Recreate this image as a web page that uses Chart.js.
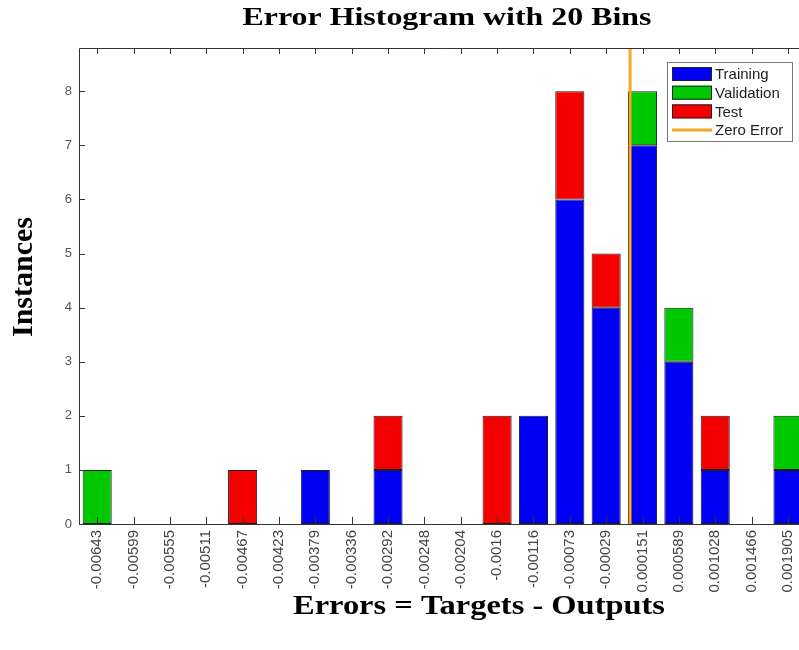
<!DOCTYPE html>
<html><head><meta charset="utf-8">
<script src="https://cdn.jsdelivr.net/npm/chart.js@4.4.1/dist/chart.umd.min.js"></script>
<style>
html,body{margin:0;padding:0;background:#fff;overflow:hidden;width:799px;height:650px}
#wrap{position:relative;width:812px;height:650px}
</style></head>
<body><div id="wrap"><canvas id="c" width="812" height="650"></canvas></div>
<script>
// ---- data ----
const binLabels = ['-0.00643','-0.00599','-0.00555','-0.00511','-0.00467','-0.00423','-0.00379','-0.00336','-0.00292','-0.00248','-0.00204','-0.0016','-0.00116','-0.00073','-0.00029','0.000151','0.000589','0.001028','0.001466','0.001905'];
const training   = [0,0,0,0,0,0,1,0,1,0,0,0,2,6,4,7,3,1,0,1];
const validation = [1,0,0,0,0,0,0,0,0,0,0,0,0,0,0,1,1,0,0,1];
const test       = [0,0,0,0,1,0,0,0,1,0,0,2,0,2,1,0,0,1,0,0];
const zeroError  = 0;
const yMax = 8.8;
const chartTitle = 'Error Histogram with 20 Bins';
const xTitle = 'Errors = Targets - Outputs';
const yTitle = 'Instances';
const legendLabels = ['Training','Validation','Test','Zero Error'];

// ---- styles ----
const C_TRAIN = '#0000f5', C_VAL = '#00c800', C_TEST = '#f50000', C_ZERO = '#f5a623';

const first = Number(binLabels[0]), last = Number(binLabels[binLabels.length-1]);
const bw = (last - first) / (binLabels.length - 1);
const nz = a => a.map(v => v === 0 ? null : v);

function barDs(label, data, color){
  return {type:'bar', label, data:nz(data), backgroundColor:color, borderColor:'#1a1a1a',
    borderWidth:1, borderSkipped:false, barPercentage:0.8, categoryPercentage:1, grouped:false,
    xAxisID:'x', yAxisID:'y'};
}

const framePlugin = {
  id:'frame',
  afterDraw(chart){
    const ctx = chart.ctx, a = chart.chartArea, xs = chart.scales.x, ys = chart.scales.y;
    ctx.save();
    ctx.strokeStyle = '#333'; ctx.lineWidth = 1;
    ctx.beginPath();
    ctx.moveTo(a.left+0.5, a.bottom+0.5); ctx.lineTo(a.left+0.5, a.top+0.5); ctx.lineTo(a.right, a.top+0.5);
    ctx.moveTo(a.left, a.bottom+0.5); ctx.lineTo(a.right, a.bottom+0.5);
    ctx.stroke();
    ctx.beginPath();
    ys.ticks.forEach(t => { const y = Math.round(ys.getPixelForValue(t.value))+0.5; ctx.moveTo(a.left, y); ctx.lineTo(a.left+6, y); });
    binLabels.forEach((l,i) => { const x = Math.round(xs.getPixelForValue(i))+0.5;
      ctx.moveTo(x, a.bottom); ctx.lineTo(x, a.bottom-7); ctx.moveTo(x, a.top); ctx.lineTo(x, a.top+6); });
    ctx.stroke();
    // legend
    const lx = 667, ly = 62, lw = 125, lh = 79;
    ctx.fillStyle = '#fff'; ctx.fillRect(lx, ly, lw, lh);
    ctx.strokeStyle = '#777'; ctx.strokeRect(lx+0.5, ly+0.5, lw, lh);
    const cols = [C_TRAIN, C_VAL, C_TEST];
    ctx.font = '15px "Liberation Sans", Arial, sans-serif'; ctx.textBaseline = 'middle'; ctx.textAlign = 'left';
    legendLabels.forEach((lab,i) => {
      const cy = 74 + i*18.7;
      if (i < 3){ ctx.fillStyle = cols[i]; ctx.fillRect(672, cy-7, 40, 14); ctx.strokeStyle = '#222'; ctx.strokeRect(672.5, cy-6.5, 39, 13); }
      else { ctx.strokeStyle = C_ZERO; ctx.lineWidth = 3; ctx.beginPath(); ctx.moveTo(672, cy); ctx.lineTo(712, cy); ctx.stroke(); ctx.lineWidth = 1; }
      ctx.fillStyle = '#222'; ctx.fillText(lab, 715, cy+1);
    });
    // titles
    ctx.fillStyle = '#000'; ctx.textAlign = 'center'; ctx.textBaseline = 'middle';
    const stretched = (text, cx, cy, font, targetW) => {
      ctx.save(); ctx.font = font; const w = ctx.measureText(text).width;
      ctx.translate(cx, cy); ctx.scale(targetW / w, 1); ctx.fillText(text, 0, 0); ctx.restore();
    };
    stretched(chartTitle, 447, 18, 'bold 26px "Liberation Serif", "Times New Roman", serif', 409);
    stretched(xTitle, 479, 607, 'bold 27px "Liberation Serif", "Times New Roman", serif', 372);
    ctx.save(); ctx.font = 'bold 30px "Liberation Serif", "Times New Roman", serif';
    ctx.translate(24, 277); ctx.rotate(-Math.PI/2); ctx.fillText(yTitle, 0, 0); ctx.restore();
    ctx.restore();
  }
};

new Chart(document.getElementById('c'), {
  type: 'bar',
  data: {
    labels: binLabels,
    datasets: [
      barDs('Training', training, C_TRAIN),
      barDs('Validation', validation, C_VAL),
      barDs('Test', test, C_TEST),
      {type:'line', label:'Zero Error', data:[{x:zeroError,y:0},{x:zeroError,y:yMax}],
       xAxisID:'x2', yAxisID:'y', borderColor:C_ZERO, borderWidth:3, pointRadius:0, order:-1}
    ]
  },
  options: {
    responsive:false, devicePixelRatio:1, animation:false,
    layout:{padding:{top:48, right:2, left:0, bottom:0}},
    plugins:{legend:{display:false}, title:{display:false}, tooltip:{enabled:false}},
    scales:{
      x:{type:'category', stacked:true, offset:true, grid:{display:false, drawTicks:false}, border:{display:false},
         ticks:{color:'#444', font:{family:'"Liberation Sans", Arial, sans-serif', size:15}, minRotation:90, maxRotation:90, autoSkip:false, padding:6},
         afterFit(s){ s.height = 126; }},
      x2:{type:'linear', display:false, offset:false, bounds:'ticks', min:first - bw/2, max:last + bw/2, grid:{offset:false}},
      y:{type:'linear', stacked:true, min:0, max:yMax, grid:{display:false, drawTicks:false}, border:{display:false},
         ticks:{stepSize:1, color:'#555', font:{family:'"Liberation Sans", Arial, sans-serif', size:13}, padding:7},
         afterBuildTicks(s){ s.ticks = s.ticks.filter(t => Number.isInteger(t.value)); },
         afterFit(s){ s.width = 79; }}
    }
  },
  plugins:[framePlugin]
});
</script>
</body></html>
